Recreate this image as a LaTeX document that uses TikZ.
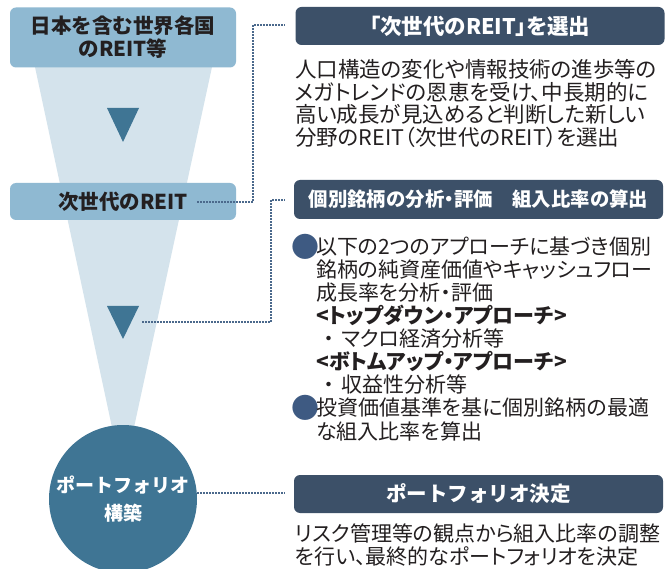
\documentclass[tikz,border=0pt]{standalone}
\usepackage{fontspec}
\setmainfont{Noto Sans CJK JP}[RawFeature=+palt]
\newfontfamily\jpfull{Noto Sans CJK JP}
\definecolor{boxlight}{RGB}{143,185,210}
\definecolor{funnel}{RGB}{212,227,236}
\definecolor{dblue}{RGB}{63,117,148}
\definecolor{hdr}{RGB}{60,80,104}
\definecolor{dotc}{RGB}{75,105,140}
\definecolor{bulc}{RGB}{62,90,130}
\definecolor{txt}{RGB}{35,31,32}
\newcommand\bulmark{\makebox[21pt][c]{\raisebox{-3.4pt}{\fontsize{28}{28}\selectfont\textcolor{bulc}{●}}}}
\newcommand\indnt{\hspace*{21pt}}
\newcommand\subdot{\makebox[25pt]{・}}
\begin{document}
\begin{tikzpicture}[x=1pt,y=-1pt,
  lbox/.style={fill=boxlight, rounded corners=6pt, minimum width=226pt, inner sep=0pt,
    font=\jpfull\bfseries\fontsize{20.5}{23}\selectfont, text=txt, align=center},
  hbox/.style={fill=hdr, rounded corners=6pt, minimum width=369pt, minimum height=38pt,
    inner sep=0pt, text=white, font=\jpfull\bfseries\fontsize{20.5}{20}\selectfont},
  body/.style={anchor=base west, inner sep=0pt, text width=372pt, align=left, text=txt},
  tri/.style={fill=dblue},
  dotline/.style={draw=dotc, line width=1.5pt, dash pattern=on 1.5pt off 1.5pt}]
\useasboundingbox (0,0) rectangle (667,569);
\fill[white] (0,0) rectangle (667,569);
% funnel
\fill[funnel] (35,67) -- (212,67) -- (133,432) -- (113,432) -- cycle;
% left boxes
\node[lbox, minimum height=60pt] (src) at (123,37.5) {日本を含む世界各国\\のREIT等};
\node[lbox, minimum height=37pt] (next) at (123,201.5) {次世代のREIT};
% triangles
\fill[tri] (107,108) -- (139,108) -- (123,142) -- cycle;
\fill[tri] (107,306) -- (139,306) -- (123,339) -- cycle;
\coordinate (t2) at (142,322);
% circle
\node[circle, fill=dblue, minimum size=148pt, inner sep=0pt, text=white, align=center,
  font=\jpfull\bfseries\fontsize{19}{28}\selectfont] (pf) at (123,499) {ポートフォリオ\\構築};
% headers
\node[hbox, font=\bfseries\fontsize{21.5}{20}\selectfont] (h1) at (480,26) {「次世代のREIT」を選出};
\node[hbox, minimum height=39pt, font=\jpfull\bfseries\fontsize{19.4}{20}\selectfont] (h2) at (478.5,199.5) {個別銘柄の分析{\addfontfeature{RawFeature=+palt}・}評価　組入比率の算出};
\node[hbox] (h3) at (478.5,494) {ポートフォリオ決定};
% bodies
\node[body, font=\fontsize{21.5}{22.6}\selectfont] (b1) at (295,77.5) {人口構造の変化や情報技術の進歩等の\\メガトレンドの恩恵を受け、中長期的に\\高い成長が見込めると判断した新しい\\分野のREIT（次世代のREIT）を選出};
\node[body, font=\fontsize{21}{23}\selectfont] (b2) at (295,254.5) {\bulmark 以下の2つのアプローチに基づき個別\\
\indnt 銘柄の純資産価値やキャッシュフロー\\
\indnt 成長率を分析・評価\\
\indnt{\bfseries <トップダウン・アプローチ>}\\
\indnt\subdot マクロ経済分析等\\
\indnt{\bfseries <ボトムアップ・アプローチ>}\\
\indnt\subdot 収益性分析等\\
\bulmark 投資価値基準を基に個別銘柄の最適\\
\indnt な組入比率を算出};
\node[body, font=\fontsize{21}{23}\selectfont] (b3) at (295,541) {リスク管理等の観点から組入比率の調整\\を行い、最終的なポートフォリオを決定};
% connectors
\coordinate (c1s) at (197,202);
\coordinate (c1e) at (285,25);
\coordinate (c2e) at (285,200);
\coordinate (c3s) at (197,493);
\coordinate (c3e) at (285,493);
\draw[dotline] (c1s) -- (253,202) |- (c1e);
\draw[dotline] (t2) -- (271,322) |- (c2e);
\draw[dotline] (c3s) -- (c3e);
\end{tikzpicture}
\end{document}
